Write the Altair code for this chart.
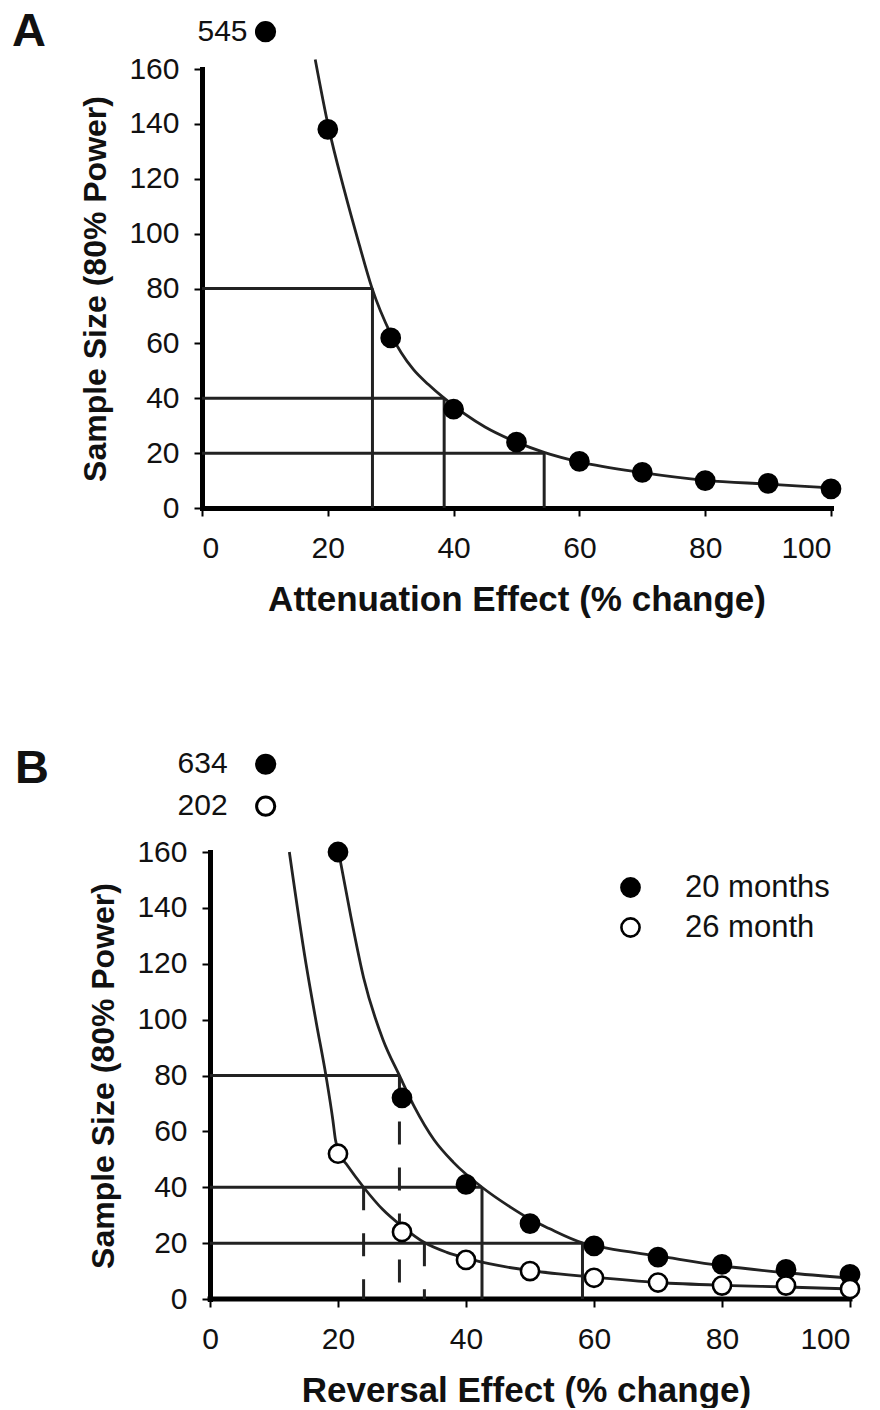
import altair as alt
import pandas as pd

# ---------------- Panel A data ----------------
a_x = [20, 30, 40, 50, 60, 70, 80, 90, 100]
a_y = [138, 62, 36, 24, 17, 13, 10, 9, 7]
a_out_x = [10.1]
a_out_y = [173.6]          # drawn above the axis break
a_out_label = ["545"]
a_curve_x = [18, 20.1, 22.6, 25, 27, 30, 33.6, 36, 38.4, 45, 50, 54.5, 60, 70, 80, 90, 100]
a_curve_y = [163.5, 139, 116, 96, 80.3, 63.5, 50.5, 45, 40.2, 29.5, 24, 20.2, 16.8, 12.9, 10.1, 8.7, 7.3]
a_ref_y = [80, 40, 20]
a_ref_x = [27.1, 38.5, 54.4]

# ---------------- Panel B data ----------------
b_x = [20, 30, 40, 50, 60, 70, 80, 90, 100]
b_20 = [160, 72, 41, 27, 19, 15, 12.4, 10.6, 8.8]
b_26 = [52, 24, 14, 10, 7.6, 5.9, 4.8, 4.8, 3.6]
b_series = ["20 months", "26 month"]
b_out_x = [8.7, 8.7]
b_out_y = [191.4, 176.4]   # drawn above the axis break
b_out_label = ["634", "202"]
b20_curve_x = [20.1, 22, 24, 27, 29.7, 32, 35, 38, 42.5, 47, 50, 53, 58.3, 62, 70, 80, 90, 100]
b20_curve_y = [160, 137, 115, 93, 79.5, 68.5, 57, 49, 40, 32.8, 28.6, 25.2, 20, 18.2, 15.4, 11.9, 9.4, 7.5]
b26_curve_x = [12.4, 15, 16.6, 18.15, 19.2, 19.6, 20.2, 21.3, 24, 27, 30, 33.5, 37, 40, 45, 50, 60, 70, 80, 90, 100]
b26_curve_y = [160, 120, 99, 79.5, 64, 57, 52, 48.3, 40, 32, 26, 20.2, 16.7, 14.6, 12, 10.2, 7.8, 5.9, 4.9, 4.3, 3.6]
b_ref_y = [80, 40, 20]
b_ref_x = [29.6, 42.5, 58.2]
b_ref_style = ["dashed", "solid", "solid"]
b_dash_x = [24, 33.5]
b_dash_top = [40, 20]

FONT = "Liberation Sans"
INK = "#111111"
LINE = "#222222"


def panel(letter, letter_pos, w, h, x_title, points_df, curves, hrefs, vrefs, outl_df,
          out_dx, legend=None, x_min=0.0, y_axis_offset=0):
    xs = alt.Scale(domain=[x_min, 100], nice=False, zero=False)
    ys = alt.Scale(domain=[0, 160], nice=False, zero=False)
    shifted = x_min != 0
    ax = alt.Axis(values=[0, 20, 40, 60, 80, 100], title=x_title, grid=False,
                  labelPadding=17, titlePadding=19, titleFontSize=35, tickSize=8,
                  domain=not shifted)
    ay = alt.Axis(values=[0, 20, 40, 60, 80, 100, 120, 140, 160], title="Sample Size (80% Power)",
                  grid=False, labelPadding=15, titlePadding=16, titleFontSize=32, tickSize=8,
                  offset=y_axis_offset)

    def X(f="x"):
        return alt.X(f"{f}:Q", scale=xs, axis=ax)

    def Y(f="y"):
        return alt.Y(f"{f}:Q", scale=ys, axis=ay)

    layers = []
    if shifted:
        # x-axis baseline drawn from 0 to 100 (axis domain line hidden)
        layers.append(alt.Chart(pd.DataFrame({"x": [0], "x2": [100], "y": [0]})).mark_rule(
            color="#000000", strokeWidth=5, strokeCap="square").encode(x=X("x"), x2="x2:Q", y=Y("y")))
    # reference lines (horizontal)
    layers.append(alt.Chart(hrefs).mark_rule(color=LINE, strokeWidth=3).encode(
        x=X("x"), x2="x2:Q", y=Y("y")))
    # reference lines (vertical)
    for style, dash in [("solid", [1, 0]), ("dashed", [23, 23])]:
        sub = vrefs[vrefs["style"] == style]
        if len(sub):
            layers.append(alt.Chart(sub).mark_rule(color=LINE, strokeWidth=3, strokeDash=dash).encode(
                x=X("x"), y=Y("y"), y2="y2:Q"))
    # curves
    layers.append(alt.Chart(curves).mark_line(color=LINE, strokeWidth=2.8, interpolate="monotone").encode(
        x=X("x"), y=Y("y"), detail="series:N", order="x:Q"))
    # points
    if legend is not None:
        fill = alt.Fill("series:N", scale=alt.Scale(domain=b_series, range=["#000000", "#ffffff"]),
                        legend=legend)
    else:
        fill = alt.value("#000000")
    layers.append(alt.Chart(points_df).mark_circle(size=330, stroke="#000000", strokeWidth=2.6, opacity=1).encode(
        x=X("x"), y=Y("y"), fill=fill))
    # outliers above the break
    for fcol in outl_df["fill"].unique():
        sub = outl_df[outl_df["fill"] == fcol]
        layers.append(alt.Chart(sub).mark_circle(size=330, stroke="#000000", strokeWidth=3, opacity=1,
                                                 fill=fcol).encode(x=X("x"), y=Y("y")))
    layers.append(alt.Chart(outl_df).mark_text(align="right", baseline="middle", dx=out_dx,
                                               font=FONT, fontSize=30, color=INK).encode(
        x=X("x"), y=Y("y"), text="label:N"))
    # panel letter
    layers.append(alt.Chart(pd.DataFrame({"t": [letter]})).mark_text(
        align="left", baseline="alphabetic", font=FONT, fontSize=47, fontWeight="bold", color=INK).encode(
        text="t:N", x=alt.value(letter_pos[0]), y=alt.value(letter_pos[1])))
    return alt.layer(*layers).properties(width=w, height=h)


# ---- Panel A frames ----
a_points = pd.DataFrame({"x": a_x, "y": a_y})
a_curves = pd.DataFrame({"x": a_curve_x, "y": a_curve_y, "series": "A"})
a_h = pd.DataFrame({"x": [0] * 3, "x2": a_ref_x, "y": a_ref_y})
a_v = pd.DataFrame({"x": a_ref_x, "y": a_ref_y, "y2": [0] * 3, "style": ["solid"] * 3})
a_out = pd.DataFrame({"x": a_out_x, "y": a_out_y, "label": a_out_label, "fill": ["#000000"]})

chartA = panel("A", (-190, -23), 629, 439, "Attenuation Effect (% change)",
               a_points, a_curves, a_h, a_v, a_out, -18)

# ---- Panel B frames ----
b_points = pd.DataFrame({
    "x": b_x + b_x,
    "y": b_20 + b_26,
    "series": [b_series[0]] * len(b_x) + [b_series[1]] * len(b_x),
})
b_curves = pd.concat([
    pd.DataFrame({"x": b20_curve_x, "y": b20_curve_y, "series": b_series[0]}),
    pd.DataFrame({"x": b26_curve_x, "y": b26_curve_y, "series": b_series[1]}),
])
b_h = pd.DataFrame({"x": [0] * 3, "x2": b_ref_x, "y": b_ref_y})
b_v = pd.DataFrame({
    "x": b_ref_x + b_dash_x,
    "y": b_ref_y + b_dash_top,
    "y2": [0] * 5,
    "style": b_ref_style + ["dashed", "dashed"],
})
b_out = pd.DataFrame({"x": b_out_x, "y": b_out_y, "label": b_out_label,
                      "fill": ["#000000", "#ffffff"]})

legendB = alt.Legend(title=None, orient="none", legendX=413, legendY=20, padding=0,
                     symbolType="circle", symbolSize=330, symbolStrokeColor="#000000",
                     symbolStrokeWidth=2.6, symbolOpacity=1, labelFont=FONT, labelFontSize=31,
                     labelColor=INK, labelOffset=39, rowPadding=8)

chartB = panel("B", (-187, -69), 648, 447, "Reversal Effect (% change)",
               b_points, b_curves, b_h, b_v, b_out, -38, legend=legendB,
               x_min=-1.25, y_axis_offset=-8)

chart = alt.concat(chartA, chartB, columns=1, spacing=128).resolve_scale(
    fill="independent"
).resolve_legend(fill="independent").properties(
    padding={"left": 4, "top": 0, "right": 5, "bottom": 0}
).configure_view(stroke=None).configure_axis(
    domainColor="#000000", domainWidth=5, domainCap="square",
    tickColor="#000000", tickWidth=2,
    labelFont=FONT, labelFontSize=30, labelColor=INK,
    titleFont=FONT, titleFontWeight="bold", titleColor=INK,
)

chart.save("out.html", embed_options={"renderer": "svg", "actions": False})
